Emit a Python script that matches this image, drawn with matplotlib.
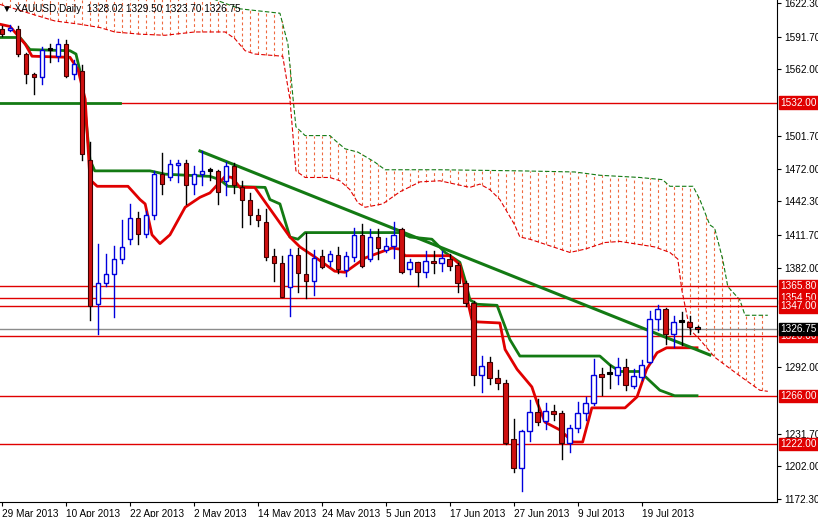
import matplotlib
matplotlib.use("Agg")
import matplotlib.pyplot as plt
import matplotlib.transforms as mtransforms
import numpy as np

plt.rcParams['font.family'] = ['Liberation Sans', 'DejaVu Sans']

# ---- candles (bar index 0..87) ----
opens = [1599,1598,1599,1576,1558,1555,1580,1574,1585,1558,1561,1480,1349,1368,1376,1390,1408,1427,1413,1430,
         1467,1464,1475,1477,1458,1467,1470,1470,1461,1474,1455,1444,1430,1424,1393,1386,1365,1394,1376,1370,
         1393,1388,1394,1380,1392,1412,1390,1410,1398,1402,1417,1381,1387,1378,1388,1386,1390,1385,1368,1350,
         1285,1297,1282,1278,1227,1200,1234,1251,1243,1252,1250,1223,1237,1250,1259,1286,1286,1285,1292,1275,
         1283,1297,1336,1345,1322,1333,1333,1328.02]
highs = [1601,1602,1601,1577,1559,1582,1585,1590,1589,1571,1566,1496,1404,1395,1402,1425,1440,1433,1434,1470,
         1486,1480,1480,1480,1474,1488,1473,1471,1478,1477,1461,1450,1435,1435,1399,1393,1399,1400,1414,1398,
         1398,1397,1401,1396,1418,1422,1417,1417,1409,1424,1418,1390,1387,1397,1397,1397,1395,1386,1370,1352,
         1302,1301,1289,1280,1245,1235,1262,1263,1259,1258,1252,1239,1260,1265,1299,1291,1294,1300,1299,1290,
         1298,1343,1348,1346,1338,1342,1338,1329.5]
lows = [1592,1597,1574,1550,1540,1549,1569,1570,1555,1553,1480,1335,1322,1366,1337,1386,1404,1404,1410,1426,
        1449,1462,1460,1440,1449,1457,1462,1440,1448,1450,1419,1422,1420,1389,1370,1356,1338,1360,1355,1357,
        1382,1384,1377,1375,1388,1383,1388,1390,1396,1391,1377,1376,1366,1374,1377,1379,1380,1360,1347,1276,
        1269,1277,1272,1222,1197,1180,1225,1239,1236,1244,1209,1215,1233,1244,1258,1267,1273,1277,1271,1273,
        1280,1296,1326,1313,1310,1312,1322,1323.7]
closes = [1594,1600,1576,1558,1555,1580,1580,1585,1556,1567,1485,1347,1368,1376,1390,1401,1427,1413,1430,1467,
          1458,1476,1477,1457,1467,1470,1470,1451,1474,1457,1444,1430,1425,1392,1386,1356,1394,1377,1370,1391,
          1383,1395,1381,1393,1412,1384,1410,1400,1402,1412,1378,1387,1378,1388,1386,1391,1384,1368,1350,1285,
          1293,1282,1278,1223,1200,1234,1251,1242,1252,1249,1223,1237,1250,1259,1285,1283,1286,1292,1276,1284,
          1294,1336,1345,1322,1333,1333,1328,1326.75]

# ---- indicator lines: (bar index, price) ----
tenkan_x = [-0.25,1,2.9,3.75,8.5,9.5,10.4,11,11.9,15.75,17.25,17.9,18.75,19.75,21,22.9,24.75,26,27.9,28.75,29.75,
            31.6,36,37.25,39.1,41.6,42.9,45.4,47.25,48.75,49.75,50.4,56,57.25,57.9,58.75,59.4,62.25,62.9,64.4,
            66.25,66.9,67.9,69.75,71.4,72.6,73.75,77.9,79.4,80.6,81.9,83.1,86.9]
tenkan_y = [1603,1601,1585,1574,1573,1562,1535,1462,1456,1456,1444,1440,1412,1404,1412,1437,1446,1450,1465,1464,1455,
            1455,1410,1401,1392,1379,1378,1391,1396,1400,1399,1393,1393,1385,1362,1335,1333,1332,1308,1290,
            1274,1260,1242,1235,1224,1224,1255,1255,1265,1290,1305,1309.5,1309.5]
kijun_x = [-0.25,2.25,3.5,8.5,9.25,10,11,11.6,18.5,20.4,26,27.25,28.25,32.9,33.5,34.75,36,37,37.9,49.75,51,53.75,
           55.4,57.25,57.9,58.5,59.4,61.9,63.5,64.75,74.75,76,77.25,79.75,82.25,84.1,86.9]
kijun_y = [1591,1591,1580,1579,1576,1553,1480,1470,1470,1467,1465,1462,1456,1455,1444,1440,1410,1408,1414,1414,1410,1408,
           1396,1387,1371,1353,1349,1348,1317,1302,1302,1294,1288,1288,1271,1266,1266]
span_up_x = [-1,26.4,29.75,34.75,35.75,36.4,36.75,37.9,41,41.75,42.9,44.5,46.6,47.9,54.75,64.75,71.6,74.75,79.75,82.6,
             83.5,86.4,87.25,88.5,89.1,90.1,90.75,92.25,92.9,95.75]
span_up_y = [1640,1626,1617,1613,1585,1535,1510,1502,1502,1497,1490,1487,1478,1471,1471,1470,1469,1466,1464,1462,
             1456,1456,1444,1421,1418,1390,1365,1353,1339,1339]
span_lo_x = [-0.25,1.6,4.75,6.6,9.75,12.25,14.1,17.25,20.4,24.1,27.9,29.1,30.4,31.6,35.1,36,36.75,37.9,41,42.25,43.5,
             44.5,45.4,47.6,49.75,52.25,54.75,58.5,59.75,61,62.25,64.1,64.75,66,69.75,71,72.9,75.4,77.25,81.6,83.5,
             84.5,85,86,87.25,89.1,92.25,94.75,95.75]
span_lo_y = [1621,1617,1610,1606,1603,1600,1596,1594,1593,1596,1596,1590,1579,1576,1574,1535,1470,1464,1464,1461,1453,
             1441,1437,1440,1451,1460,1461,1455,1458,1453,1444,1421,1410,1408,1399,1396,1399,1405,1406,1401,1396,
             1390,1362,1326,1317,1301,1284,1271,1270]
trend_x = [24.75, 88.5]
trend_y = [1488, 1303]
levels = [1532.00, 1365.80, 1354.50, 1347.00, 1320.00, 1266.00, 1222.00]
current = 1326.75
ytick_vals = [1622.30,1591.70,1562.00,1501.70,1472.00,1442.30,1411.70,1382.00,1292.00,1231.70,1202.00,1172.30]
date_idx = [0,8,16,24,32,40,48,56,64,72,80]
date_lbl = ["29 Mar 2013","10 Apr 2013","22 Apr 2013","2 May 2013","14 May 2013","24 May 2013",
            "5 Jun 2013","17 Jun 2013","27 Jun 2013","9 Jul 2013","19 Jul 2013"]

RED = "#e00000"; GREEN = "#137a13"; BLUE = "#0000dd"; HATCH = "#ee6a40"
FS = 7.2
fig = plt.figure(figsize=(8.18, 5.17), dpi=100)
ax = fig.add_axes([0, 1-502/517, 777/818, 502/517])
ax.set_xlim(-0.25, 96.9)
ax.set_ylim(1169.6, 1625.0)

# cloud
hx = np.arange(-1, 96)
up = np.interp(hx, span_up_x, span_up_y)
lo = np.interp(hx, span_lo_x, span_lo_y)
for xv, a, b in zip(hx, up, lo):
    ax.plot([xv, xv], [min(a, b), max(a, b)], color=HATCH, lw=0.8, ls=(0, (2.5, 2.5)), zorder=1)
ax.plot(span_up_x, span_up_y, color=GREEN, lw=0.8, ls=(0, (4, 2)), zorder=1)
ax.plot(span_lo_x, span_lo_y, color=RED, lw=0.8, ls=(0, (4, 2)), zorder=1)

# horizontal levels
for lv in levels:
    if lv == 1532.00:
        ax.plot([14.75, 96.9], [lv, lv], color=RED, lw=1, zorder=2)
        ax.plot([-0.25, 14.75], [lv, lv], color=GREEN, lw=2, zorder=2)
    else:
        ax.axhline(lv, color=RED, lw=1, zorder=2)
ax.axhline(current, color="#8c8c8c", lw=1, zorder=2)

# indicators
ax.plot(kijun_x, kijun_y, color=GREEN, lw=2, zorder=3)
ax.plot(tenkan_x, tenkan_y, color=RED, lw=2, zorder=3)
ax.plot(trend_x, trend_y, color=GREEN, lw=2.2, zorder=3)

# candles
w = 0.6
for i, (o, h, l, c) in enumerate(zip(opens, highs, lows, closes)):
    if c > o:
        ax.plot([i, i], [l, h], color=BLUE, lw=1, zorder=4)
        ax.add_patch(plt.Rectangle((i - w/2, o), w, c - o, facecolor="white", edgecolor=BLUE, lw=1, zorder=5))
    elif c < o and o - c > 1.5:
        ax.plot([i, i], [l, h], color="black", lw=1, zorder=4)
        ax.add_patch(plt.Rectangle((i - w/2, c), w, o - c, facecolor="#d01010", edgecolor="#400000", lw=0.8, zorder=5))
    else:
        col = "#d01010" if c < o else "black"
        ax.plot([i, i], [l, h], color="black", lw=1, zorder=4)
        ax.add_patch(plt.Rectangle((i - w/2, min(o, c)), w, max(abs(o - c), 1.5), facecolor=col, edgecolor="black", lw=0.8, zorder=5))

# axes styling
for s in ["top", "left"]:
    ax.spines[s].set_visible(False)
ax.spines["right"].set_color("black"); ax.spines["bottom"].set_color("black")
ax.yaxis.tick_right()
ax.set_yticks(ytick_vals)
ax.set_yticklabels([f"{v:.2f}" for v in ytick_vals], fontsize=FS)
ax.tick_params(axis="y", length=3, pad=2)
ax.set_xticks(date_idx)
ax.set_xticklabels(date_lbl, fontsize=FS, ha="left")
ax.tick_params(axis="x", length=3, pad=2)

trans = mtransforms.blended_transform_factory(ax.transAxes, ax.transData)
for lv in levels:
    ax.text(1.004, lv, f"{lv:.2f}", transform=trans, fontsize=FS, color="white", va="center", ha="left",
            bbox=dict(boxstyle="square,pad=0.12", fc=RED, ec=RED), clip_on=False, zorder=10)
ax.text(1.004, current, f"{current:.2f}", transform=trans, fontsize=FS, color="white", va="center", ha="left",
        bbox=dict(boxstyle="square,pad=0.12", fc="black", ec="black"), clip_on=False, zorder=11)

ax.text(0.003, 0.992, "\u25BC XAUUSD,Daily  1328.02 1329.50 1323.70 1326.75", transform=ax.transAxes,
        fontsize=FS, va="top", ha="left", color="black", zorder=12, family=['Liberation Sans', 'DejaVu Sans'])

fig.savefig("out.png", dpi=100)
